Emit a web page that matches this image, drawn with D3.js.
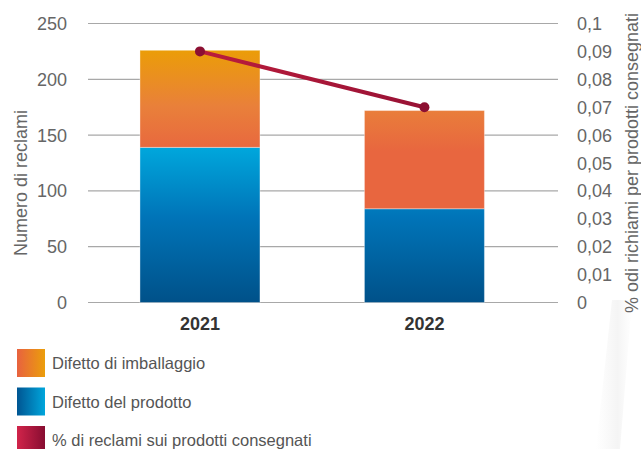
<!DOCTYPE html>
<html>
<head>
<meta charset="utf-8">
<script src="https://cdn.jsdelivr.net/npm/d3@7"></script>
<style>
  body { margin: 0; background: #fff; }
  svg text { font-family: 'Liberation Sans', 'DejaVu Sans', sans-serif; }
  .tick-label { fill: #666; font-size: 18px; }
  .axis-title { fill: #666; font-size: 18px; }
  .year { fill: #333; font-size: 18px; font-weight: bold; }
  .legend-text { fill: #555; font-size: 16.5px; }
</style>
</head>
<body>
<svg width="641" height="449"></svg>
<script>
const years = ['2021', '2022']
const prodotto = [139, 84]
const imballaggio = [87, 88]
const percentuale = [0.09, 0.07]
const leftTicks = [0, 50, 100, 150, 200, 250]
const rightTicks = [0, 0.01, 0.02, 0.03, 0.04, 0.05, 0.06, 0.07, 0.08, 0.09, 0.1]
const legendLabels = ['Difetto di imballaggio', 'Difetto del prodotto', '% di reclami sui prodotti consegnati']

const svg = d3.select('svg')
const plot = { left: 88, right: 558, top: 23.5, bottom: 302.5 }

const x = d3.scaleBand().domain(years).range([plot.left, 536.4]).paddingInner(0.4655).paddingOuter(0.2316)
const y = d3.scaleLinear().domain([0, 250]).range([plot.bottom, plot.top])
const y2 = d3.scaleLinear().domain([0, 0.1]).range([plot.bottom, plot.top])

const defs = svg.append('defs')
const grad = (id, x1, y1, x2, y2s, stops, user) => {
  const g = defs.append('linearGradient').attr('id', id)
    .attr('x1', x1).attr('y1', y1).attr('x2', x2).attr('y2', y2s)
  if (user) g.attr('gradientUnits', 'userSpaceOnUse')
  stops.forEach(s => g.append('stop').attr('offset', s[0]).attr('stop-color', s[1]))
}
grad('g-imb', 0, y(226), 0, y(135), [[0, '#eb9d08'], [0.55, '#e9803a'], [1, '#e8663f']], true)
grad('g-prod', 0, y(139), 0, y(0), [[0, '#00a7dc'], [0.45, '#0074b8'], [1, '#005189']], true)
grad('g-line', x('2021'), 0, x('2022') + x.bandwidth(), 0, [[0, '#c51f3e'], [1, '#8e0f33']], true)
grad('l-imb', 0, 0, 1, 0, [[0, '#e8623f'], [1, '#eb9e0b']])
grad('l-prod', 0, 0, 1, 0, [[0, '#005592'], [1, '#00a6dc']])
grad('l-line', 0, 0, 1, 0, [[0, '#d1244a'], [1, '#870d31']])
grad('shadow', 0, 0, 1, 0, [[0, '#ffffff'], [0.6, '#f0f0f0'], [1, '#ffffff']])

// faint decorative shadow bottom right
svg.append('path')
  .attr('d', 'M632,300 L612,300 L596,449 L620,449 Z')
  .attr('fill', 'url(#shadow)').attr('opacity', 0.7)

// gridlines
svg.append('g').selectAll('line').data(leftTicks).join('line')
  .attr('x1', plot.left).attr('x2', plot.right)
  .attr('y1', d => y(d)).attr('y2', d => y(d))
  .attr('stroke', '#a8a8a8').attr('stroke-width', 1.2)

// left tick labels
svg.append('g').selectAll('text').data(leftTicks).join('text')
  .attr('class', 'tick-label')
  .attr('x', 67).attr('y', d => y(d) + 6.5)
  .attr('text-anchor', 'end')
  .text(d => d)

// right tick labels
svg.append('g').selectAll('text').data(rightTicks).join('text')
  .attr('class', 'tick-label')
  .attr('x', 577).attr('y', d => y2(d) + 6.5)
  .text(d => d3.format('~g')(+d.toFixed(2)).replace('.', ','))

// bars
const bars = svg.append('g')
bars.selectAll('.prod').data(years).join('rect')
  .attr('class', 'prod')
  .attr('x', d => x(d)).attr('width', x.bandwidth())
  .attr('y', (d, i) => y(prodotto[i]))
  .attr('height', (d, i) => y(0) - y(prodotto[i]))
  .attr('fill', 'url(#g-prod)')
  .attr('stroke', 'rgba(255,255,255,0.35)').attr('stroke-width', 1)
bars.selectAll('.imb').data(years).join('rect')
  .attr('class', 'imb')
  .attr('x', d => x(d)).attr('width', x.bandwidth())
  .attr('y', (d, i) => y(prodotto[i] + imballaggio[i]))
  .attr('height', (d, i) => y(prodotto[i]) - y(prodotto[i] + imballaggio[i]))
  .attr('fill', 'url(#g-imb)')
  .attr('stroke', 'rgba(255,255,255,0.35)').attr('stroke-width', 1)

// line
const cx = d => x(d) + x.bandwidth() / 2
const line = d3.line().x(d => cx(d)).y((d, i) => y2(percentuale[i]))
svg.append('path').datum(years)
  .attr('d', line)
  .attr('fill', 'none')
  .attr('stroke', 'url(#g-line)')
  .attr('stroke-width', 4)
svg.append('g').selectAll('circle').data(years).join('circle')
  .attr('cx', d => cx(d)).attr('cy', (d, i) => y2(percentuale[i]))
  .attr('r', 5).attr('fill', '#8c0f32')

// year labels
svg.append('g').selectAll('text').data(years).join('text')
  .attr('class', 'year')
  .attr('x', d => cx(d)).attr('y', 329.5)
  .attr('text-anchor', 'middle')
  .text(d => d)

// axis titles
svg.append('text').attr('class', 'axis-title')
  .attr('transform', 'translate(27,183) rotate(-90)')
  .attr('text-anchor', 'middle')
  .text('Numero di reclami')
svg.append('text').attr('class', 'axis-title')
  .attr('transform', 'translate(638,163) rotate(-90)')
  .attr('text-anchor', 'middle')
  .text('% odi richiami per prodotti consegnati')

// legend
const legendFills = ['url(#l-imb)', 'url(#l-prod)', 'url(#l-line)']
const lg = svg.append('g').selectAll('g').data(legendLabels).join('g')
  .attr('transform', (d, i) => `translate(17,${349 + i * 38.5})`)
lg.append('rect').attr('width', 28).attr('height', 28)
  .attr('fill', (d, i) => legendFills[i])
lg.append('text').attr('class', 'legend-text')
  .attr('x', 35).attr('y', 20)
  .text(d => d)
</script>
</body>
</html>
